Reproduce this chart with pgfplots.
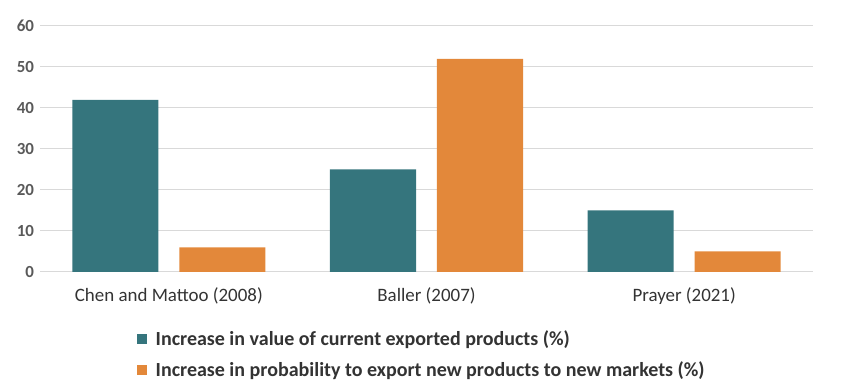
\documentclass[border=0pt]{standalone}
\usepackage{pgfplots}
\pgfplotsset{compat=1.18}
\usepackage{fontspec}
\setmainfont{Carlito}
\definecolor{teal1}{HTML}{35757D}
\definecolor{orange1}{HTML}{E3883A}
\definecolor{gridc}{HTML}{D9D9D9}
\definecolor{tickc}{HTML}{595959}
\begin{document}
\begin{tikzpicture}
\path[use as bounding box] (0pt,0pt) rectangle (637.5pt,294pt);
\begin{axis}[
  at={(30pt,90pt)}, anchor=south west,
  scale only axis,
  width=579.75pt, height=184.5pt,
  xmin=-0.5, xmax=2.5, ymin=0, ymax=60,
  ytick={0,10,...,60},
  xtick={0,1,2},
  xticklabels={Chen and Mattoo (2008),Baller (2007),Prayer (2021)},
  axis line style={draw=none},
  major tick length=0pt,
  ymajorgrids, grid style={gridc, line width=0.75pt},
  yticklabel style={font=\bfseries\fontsize{12.7}{14}\selectfont, text=tickc, xshift=-1pt},
  xticklabel style={font=\fontsize{14.2}{16}\selectfont, text=black!80, yshift=-8.5pt},
  /pgf/number format/assume math mode=true,
  ybar=0pt, bar width=0.334,
  enlarge x limits=false,
  legend style={draw=none, at={(0.120,-0.215)}, anchor=north west,
    font=\bfseries\fontsize{15}{17}\selectfont, text=black!80,
    row sep=6.5pt, cells={anchor=west}},
  legend cell align=left,
  legend image code/.code={\fill[#1] (0pt,-3.75pt) rectangle (7.5pt,3.75pt); \path (12pt,0pt);},
]
\addplot[fill=teal1, draw=none, bar shift=-0.2076] coordinates {(0,42) (1,25) (2,15)};
\addplot[fill=orange1, draw=none, bar shift=0.2076] coordinates {(0,6) (1,52) (2,5)};
\legend{Increase in value of current exported products (\%),Increase in probability to export new products to new markets (\%)}
\end{axis}
\end{tikzpicture}
\end{document}
